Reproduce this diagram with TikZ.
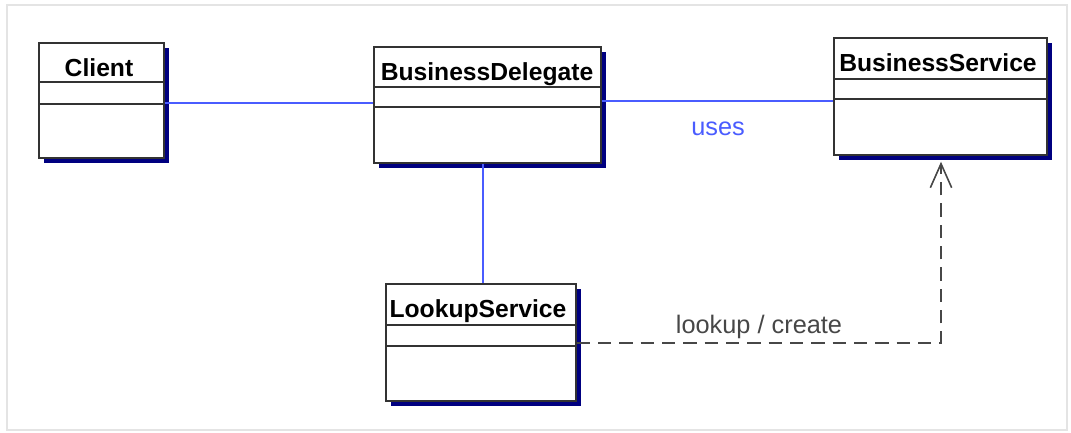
\documentclass[tikz,border=0pt]{standalone}
\usepackage{fontspec}
\setmainfont{Liberation Sans}
\usetikzlibrary{shadows,arrows.meta}
\definecolor{navyshadow}{HTML}{000080}
\definecolor{umlblue}{HTML}{4A5CFF}
\definecolor{boxline}{HTML}{333333}
\definecolor{dashgray}{HTML}{474747}
\definecolor{framegray}{HTML}{E4E4E4}
\begin{document}
\begin{tikzpicture}[x=0.75pt,y=-0.75pt,
  classbox/.style={draw=boxline, line width=1.3pt, fill=white, anchor=north west, inner sep=0pt,
    drop shadow={shadow xshift=4pt, shadow yshift=-4pt, fill=navyshadow, opacity=1}},
  classname/.style={font=\fontsize{18.5}{20}\selectfont\bfseries, anchor=base, inner sep=0pt},
  divider/.style={draw=boxline, line width=1.2pt},
  assoc/.style={draw=umlblue, line width=1.5pt},
  dep/.style={draw=dashgray, line width=1.4pt, dash pattern=on 10pt off 6pt},
  lbl/.style={font=\fontsize{19}{21}\selectfont, anchor=base, inner sep=0pt}]

\useasboundingbox (0,0) rectangle (1071,432);
\draw[framegray, line width=1pt] (7,5) rectangle (1067,430);

% Client
\node[classbox, minimum width=93.75pt, minimum height=86.25pt] (client) at (38,42) {};
\draw[divider] (client.west |- 0,82) -- (client.east |- 0,82);
\draw[divider] (client.west |- 0,104) -- (client.east |- 0,104);
\node[classname] (clientname) at (99,76) {Client};

% BusinessDelegate
\node[classbox, minimum width=170.25pt, minimum height=87pt] (bd) at (373,46) {};
\draw[divider] (bd.west |- 0,87) -- (bd.east |- 0,87);
\draw[divider] (bd.west |- 0,107) -- (bd.east |- 0,107);
\node[classname] (bdname) at (487,80) {BusinessDelegate};

% BusinessService
\node[classbox, minimum width=159.75pt, minimum height=87.75pt] (bs) at (833,37) {};
\draw[divider] (bs.west |- 0,79) -- (bs.east |- 0,79);
\draw[divider] (bs.west |- 0,99) -- (bs.east |- 0,99);
\node[classname] (bsname) at (938,71) {BusinessService};

% LookupService
\node[classbox, minimum width=142.5pt, minimum height=87.75pt] (ls) at (385,283) {};
\draw[divider] (ls.west |- 0,325) -- (ls.east |- 0,325);
\draw[divider] (ls.west |- 0,346) -- (ls.east |- 0,346);
\node[classname] (lsname) at (478,317) {LookupService};

% associations
\draw[assoc] (client.east |- 0,103) -- (bd.west |- 0,103);
\draw[assoc] (bd.east |- 0,101) -- (bs.west |- 0,101);
\node[lbl, text=umlblue] (useslbl) at (718,135) {uses};
\draw[assoc] (bd.south -| 483,0) -- (ls.north -| 483,0);

% dependency
\coordinate (deptip) at ([yshift=-4.5pt]bs.south -| 941,0);
\draw[dep, -{Straight Barb[length=18pt,width=16pt,line width=1.2pt]}] (ls.east |- 0,343) -| (deptip);
\node[lbl, text=dashgray] (lookuplbl) at (759,333) {lookup / create};
\end{tikzpicture}
\end{document}
